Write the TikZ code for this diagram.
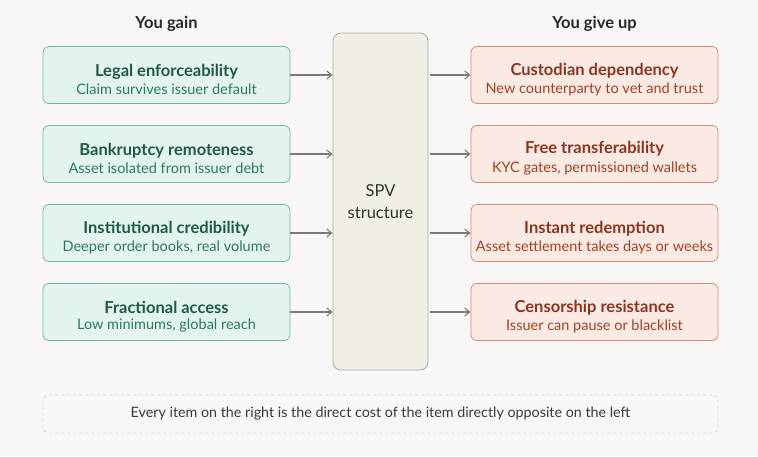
\documentclass[tikz,border=0pt]{standalone}
\usepackage{fontspec}
\setmainfont{Lato}
\usepackage{tikz}
\usetikzlibrary{arrows.meta,positioning}
\definecolor{bg}{HTML}{F8F7F5}
\definecolor{gainfill}{HTML}{E3F4EC}
\definecolor{gainline}{HTML}{6DBB9B}
\definecolor{gainink}{HTML}{1E5A43}
\definecolor{gainsub}{HTML}{2C7A5B}
\definecolor{costfill}{HTML}{FBEAE4}
\definecolor{costline}{HTML}{D68B73}
\definecolor{costink}{HTML}{8A3520}
\definecolor{costsub}{HTML}{A3401F}
\definecolor{spvfill}{HTML}{F1EEE7}
\definecolor{spvline}{HTML}{A9A8A1}
\definecolor{arrink}{HTML}{7A7A76}
\definecolor{noteline}{HTML}{D6D6D2}
\definecolor{noteink}{HTML}{3A3A38}
\tikzset{
  gain/.style={draw=gainline,fill=gainfill,rounded corners=6pt,align=center,minimum width=247pt,minimum height=57pt,inner sep=0pt,line width=0.8pt},
  cost/.style={draw=costline,fill=costfill,rounded corners=6pt,align=center,minimum width=247pt,minimum height=57pt,inner sep=0pt,line width=0.8pt},
  arr/.style={-{Straight Barb[length=5pt,width=8pt]},line width=1.1pt,draw=arrink},
  head/.style={font=\fontsize{16.5}{20}\selectfont\bfseries,text=black!85}
}
\newcommand{\gaintext}[2]{\rule{0pt}{21pt}{\fontsize{16.5}{19}\selectfont\bfseries\color{gainink}#1}\\[4pt]{\fontsize{14.5}{16}\selectfont\color{gainsub}#2}}
\newcommand{\costtext}[2]{\rule{0pt}{21pt}{\fontsize{16.5}{19}\selectfont\bfseries\color{costink}#1}\\[4pt]{\fontsize{14.5}{16}\selectfont\color{costsub}#2}}
\begin{document}
\begin{tikzpicture}[x=1pt,y=-1pt,node distance=21.2pt and 42pt]
\fill[bg] (0,0) rectangle (758,456);
\useasboundingbox (0,0) rectangle (758,456);
% headers
\node[head] (hg) at (166.5,24) {You gain};
\node[head] (hc) at (594.5,24) {You give up};
% centre
\node[draw=spvline,fill=spvfill,rounded corners=8pt,minimum width=95pt,minimum height=337pt,line width=0.8pt,align=center,font=\fontsize{16.5}{22}\selectfont,text=black!80] (spv) at (380.5,201.5) {SPV\\structure};
% left column
\node[gain] (g1) at (166.5,75) {\gaintext{Legal enforceability}{Claim survives issuer default}};
\node[gain,below=of g1] (g2) {\gaintext{Bankruptcy remoteness}{Asset isolated from issuer debt}};
\node[gain,below=of g2] (g3) {\gaintext{Institutional credibility}{Deeper order books, real volume}};
\node[gain,below=of g3] (g4) {\gaintext{Fractional access}{Low minimums, global reach}};
% right column
\node[cost] (c1) at (594.5,75) {\costtext{Custodian dependency}{New counterparty to vet and trust}};
\node[cost,below=of c1] (c2) {\costtext{Free transferability}{KYC gates, permissioned wallets}};
\node[cost,below=of c2] (c3) {\costtext{Instant redemption}{Asset settlement takes days or weeks}};
\node[cost,below=of c3] (c4) {\costtext{Censorship resistance}{Issuer can pause or blacklist}};
% arrows
\foreach \i in {1,...,4}{
  \draw[arr] (g\i.east) -- (g\i.east -| spv.west);
  \draw[arr] ([xshift=2pt]c\i.west -| spv.east) -- (c\i.west);
}
% note
\node[draw=noteline,dashed,rounded corners=6pt,minimum width=675pt,minimum height=38pt,line width=0.8pt,font=\fontsize{14.3}{16}\selectfont,text=noteink] (note) at (380.5,414) {Every item on the right is the direct cost of the item directly opposite on the left};
\end{tikzpicture}
\end{document}
